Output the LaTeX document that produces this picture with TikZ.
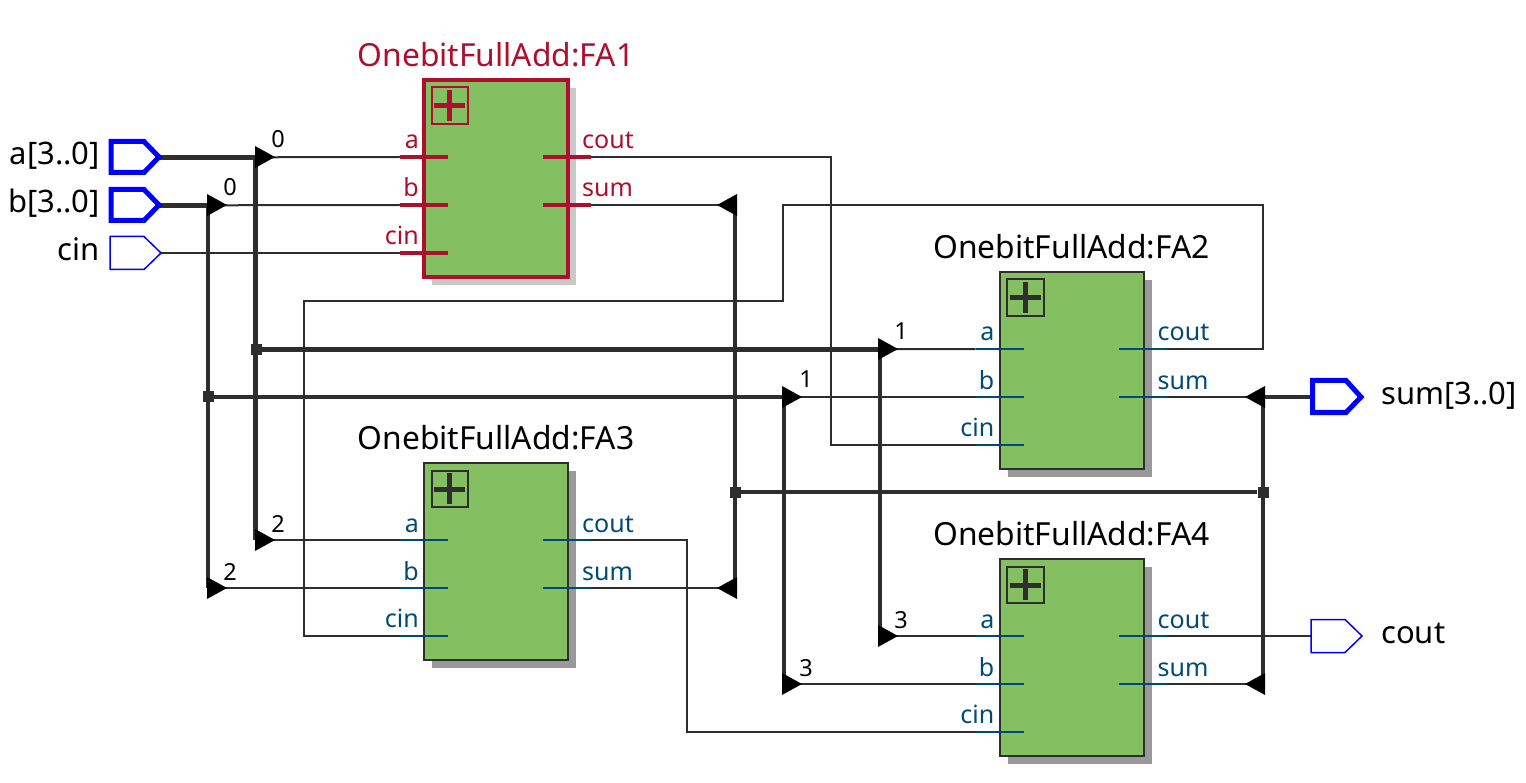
\documentclass[tikz,border=0pt]{standalone}
\usepackage{fontspec}
\setmainfont{Noto Sans}
\definecolor{wirec}{HTML}{2E2E2E}
\definecolor{redc}{HTML}{AD0F2F}
\definecolor{bluec}{HTML}{004A78}
\definecolor{greenc}{HTML}{84C062}
\definecolor{shadeA}{HTML}{C8C8C8}
\definecolor{shadeB}{HTML}{999999}
\definecolor{portc}{HTML}{0000FF}
\tikzset{
  wire/.style={draw=wirec,line width=2pt,line join=miter},
  bus/.style={draw=wirec,line width=4.6pt,line join=miter},
  tip/.style={fill=black,draw=none},
  dot/.style={fill=wirec,draw=none,minimum size=11pt,inner sep=0pt,shape=rectangle},
  idx/.style={font=\fontsize{23.5}{24}\selectfont,anchor=base,text=black,inner sep=0pt},
  title/.style={font=\fontsize{31.8}{32}\selectfont,anchor=base,inner sep=0pt},
  pinl/.style={font=\fontsize{25}{25}\selectfont,anchor=base east,inner sep=0pt},
  pinr/.style={font=\fontsize{25}{25}\selectfont,anchor=base west,inner sep=0pt},
  portl/.style={font=\fontsize{31}{32}\selectfont,inner sep=0pt,text=black},
}
% block: name, left x, top y, line colour, shadow, line width, stub colour, title colour
\newcommand{\fablock}[8]{%
  \fill[#5] (#2+8,#3+8) rectangle (#2+152,#3+205);
  \node[draw=#4,fill=greenc,line width=#6pt,outer sep=0pt,minimum width=144pt,minimum height=197pt,inner sep=0pt,anchor=center,shape=rectangle] (#1) at (#2+72,#3+98.5) {};
  \draw[#4,line width=2pt] (#2+7.5,#3+7.5) rectangle (#2+44,#3+44);
  \draw[#4,line width=5pt] (#2+10,#3+26) -- (#2+41,#3+26) (#2+25.5,#3+10) -- (#2+25.5,#3+41);
  \node[title,text=#8] (#1t) at (#2+72,#3-13.5) {OnebitFullAdd:#1};
  \coordinate (#1a) at (#2-24,#3+77);
  \coordinate (#1b) at (#2-24,#3+125);
  \coordinate (#1c) at (#2-24,#3+173);
  \coordinate (#1o) at (#2+167,#3+77);
  \coordinate (#1s) at (#2+167,#3+125);
  \draw[#7,line width=#6pt]
    (#1a) -- ++(48,0) (#1b) -- ++(48,0) (#1c) -- ++(48,0)
    (#1o) -- ++(-48,0) (#1s) -- ++(-48,0);
  \node[pinl,text=#7] (#1al) at (#2-5,#3+69) {a};
  \node[pinl,text=#7] (#1bl) at (#2-5,#3+117) {b};
  \node[pinl,text=#7] (#1cl) at (#2-5,#3+164.5) {cin};
  \node[pinr,text=#7] (#1ol) at (#2+158,#3+69) {cout};
  \node[pinr,text=#7] (#1sl) at (#2+158,#3+117) {sum};
}
\newcommand{\rtip}[2]{\fill[tip] (#1-1,#2-11) -- (#1+19,#2) -- (#1-1,#2+11) -- cycle;}
\newcommand{\ltip}[2]{\fill[tip] (#1+1,#2-11) -- (#1-19,#2) -- (#1+1,#2+11) -- cycle;}
\begin{document}
\begin{tikzpicture}[x=1pt,y=-1pt]
\useasboundingbox (0,0) rectangle (1526,783);
% named points of the net
\coordinate (pa) at (160,157.3);
\coordinate (pb) at (160,205.3);
\coordinate (pc) at (160,253);
\coordinate (psum) at (1311,397);
\coordinate (pcout) at (1311,636);
\coordinate (A0) at (255.6,157.3);
\coordinate (A1) at (880,349.3);
\coordinate (A2) at (255.6,540);
\coordinate (A3) at (880,636);
\coordinate (B0) at (207.8,205.3);
\coordinate (B1) at (784,397);
\coordinate (B2) at (207.8,588);
\coordinate (B3) at (784,684);
\coordinate (S0) at (735,205);
\coordinate (S2) at (735,588);
\coordinate (S1) at (1263,397);
\coordinate (S3) at (1263,684);
\node[dot] (ja) at (256,349.3) {};
\node[dot] (jb) at (208,397) {};
\node[dot] (js1) at (735,492) {};
\node[dot] (js2) at (1263,492) {};
% blocks
\fablock{FA1}{424}{80}{redc}{shadeA}{3.5}{redc}{redc}
\fablock{FA2}{999.5}{272}{wirec}{shadeB}{2}{bluec}{black}
\fablock{FA3}{424}{463}{wirec}{shadeB}{2}{bluec}{black}
\fablock{FA4}{999.5}{559}{wirec}{shadeB}{2}{bluec}{black}
% thin wires
\draw[wire] (A0) -- (FA1a);
\draw[wire] (B0) -- (FA1b);
\draw[wire] (pc) -- (FA1c);
\draw[wire] (A1) -- (FA2a);
\draw[wire] (B1) -- (FA2b);
\draw[wire] (A2) -- (FA3a);
\draw[wire] (B2) -- (FA3b);
\draw[wire] (A3) -- (FA4a);
\draw[wire] (B3) -- (FA4b);
\coordinate (k1) at (831,300);
\coordinate (k2) at (687,600);
\draw[wire] (FA1o) -| (k1) |- (FA2c);
\draw[wire] (FA1s) -- (S0);
\draw[wire] (FA2s) -- (S1);
\draw[wire] (FA3s) -- (S2);
\draw[wire] (FA4s) -- (S3);
\draw[wire] (FA4o) -- (pcout);
\draw[wire] (FA3o) -| (k2) |- (FA4c);
\coordinate (k3) at (1263,205);
\coordinate (k4) at (783,301);
\draw[wire] (FA2o) -| (k3) -| (k4) -| (304,636) -- (FA3c);
% buses
\draw[bus] (pa) -- (A0) -- (A2);
\draw[bus] (pb) -- (B0) -- (B2);
\draw[bus] (ja) -- (A1) -- (A3);
\draw[bus] (jb) -- (B1) -- (B3);
\draw[bus] (S0) -- (S2);
\draw[bus] (S1) -- (S3);
\draw[bus] (js1) -- (js2);
\draw[bus] (S1) -- (psum);
% tips
\rtip{256}{157}\rtip{208}{205}\rtip{256}{540}\rtip{208}{588}
\rtip{879}{349}\rtip{879}{636}\rtip{783}{397}\rtip{783}{684}
\ltip{736}{205}\ltip{736}{588}\ltip{1264}{397}\ltip{1264}{684}
% indices
\node[idx] (i1) at (278,148) {0};
\node[idx] (i2) at (230,196) {0};
\node[idx] (i3) at (278,532) {2};
\node[idx] (i4) at (230,580) {2};
\node[idx] (i5) at (901,340) {1};
\node[idx] (i6) at (806,388) {1};
\node[idx] (i7) at (901,628) {3};
\node[idx] (i8) at (806,676) {3};
% ports
\draw[portc,line width=5pt,line join=miter,fill=white] (111,141.5) -- (144,141.5) -- (159,157) -- (144,172.5) -- (111,172.5) -- cycle;
\draw[portc,line width=5pt,line join=miter,fill=white] (111,189.5) -- (144,189.5) -- (159,205) -- (144,220.5) -- (111,220.5) -- cycle;
\draw[portc,line width=1.5pt,line join=miter,fill=white] (110,236.5) -- (144,236.5) -- (161,253) -- (144,269.5) -- (110,269.5) -- cycle;
\draw[portc,line width=5pt,line join=miter,fill=white] (1312.5,380.5) -- (1346,380.5) -- (1361,397) -- (1346,412.5) -- (1312.5,412.5) -- cycle;
\draw[portc,line width=1.5pt,line join=miter,fill=white] (1311,619.5) -- (1345,619.5) -- (1362,636) -- (1345,652.5) -- (1311,652.5) -- cycle;
\node[portl,anchor=base east] (la) at (100,165) {a[3..0]};
\node[portl,anchor=base east] (lb) at (100,213) {b[3..0]};
\node[portl,anchor=base east] (lc) at (100,260.5) {cin};
\node[portl,anchor=base west] (ls) at (1381,404) {sum[3..0]};
\node[portl,anchor=base west] (lo) at (1381,643) {cout};
\end{tikzpicture}
\end{document}
